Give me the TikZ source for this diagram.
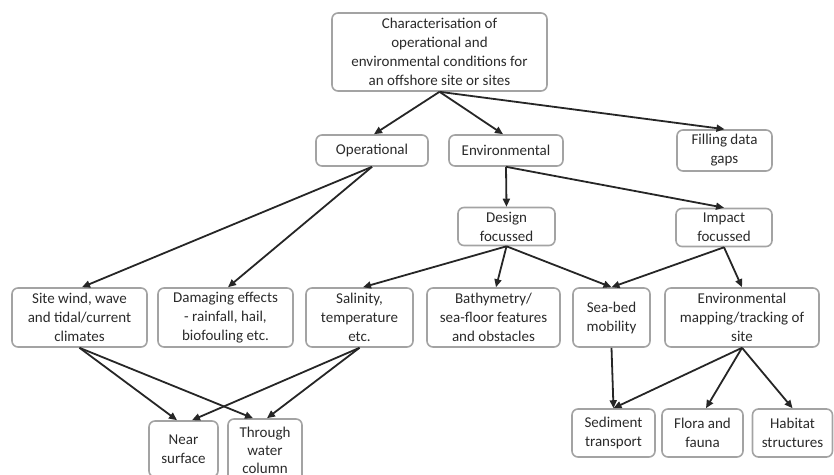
\documentclass[tikz,border=0pt]{standalone}
\usepackage{fontspec}
\setmainfont{Carlito}
\usetikzlibrary{arrows.meta,calc}
\definecolor{boxgray}{HTML}{A3A3A3}
\definecolor{txtgray}{HTML}{2A2A2A}
\begin{document}
\begin{tikzpicture}[x=1pt,y=-1pt,
 box/.style={draw=boxgray,line width=1.6pt,rounded corners=6pt,align=center,inner sep=0pt,text=txtgray,font=\fontsize{15}{19}\selectfont},
 arr/.style={line width=1.8pt,-{Triangle[length=8pt,width=7pt]},draw=black!85}]
\useasboundingbox (0,0) rectangle (834,474);
\node[box,minimum width=215pt,minimum height=78pt] (top) at (439.5,52) {Characterisation of\\operational and\\environmental conditions for\\an offshore site or sites};
\node[box,minimum width=112pt,minimum height=31pt] (op) at (372,150.5) {Operational};
\node[box,minimum width=114pt,minimum height=31pt] (env) at (506,150.5) {Environmental};
\node[box,minimum width=95pt,minimum height=41pt] (fill) at (724.5,150.5) {Filling data\\gaps};
\node[box,minimum width=97pt,minimum height=38pt] (design) at (506.5,226.5) {Design\\focussed};
\node[box,minimum width=96pt,minimum height=38pt] (impact) at (724,227.5) {Impact\\focussed};
\node[box,minimum width=135pt,minimum height=59pt] (site) at (79.5,317.5) {Site wind, wave\\and tidal/current\\climates};
\node[box,minimum width=135pt,minimum height=59pt] (dmg) at (225.5,317.5) {Damaging effects\\- rainfall, hail,\\biofouling etc.};
\node[box,minimum width=107pt,minimum height=59pt] (sal) at (359.5,317.5) {Salinity,\\temperature\\etc.};
\node[box,minimum width=133pt,minimum height=59pt] (bath) at (493.5,317.5) {Bathymetry/\\sea-floor features\\and obstacles};
\node[box,minimum width=77pt,minimum height=59pt] (seabed) at (611.5,317.5) {Sea-bed\\mobility};
\node[box,minimum width=154pt,minimum height=59pt] (envmap) at (742,317.5) {Environmental\\mapping/tracking of\\site};
\node[box,minimum width=69pt,minimum height=56pt] (near) at (183.5,449) {Near\\surface};
\node[box,minimum width=74pt,minimum height=62pt,font=\fontsize{15}{18}\selectfont] (through) at (265,450) {Through\\water\\column};
\node[box,minimum width=83pt,minimum height=48pt] (sed) at (613.5,433) {Sediment\\transport};
\node[box,minimum width=81pt,minimum height=48pt] (flora) at (702.5,433) {Flora and\\fauna};
\node[box,minimum width=80pt,minimum height=48pt] (hab) at (792.5,433) {Habitat\\structures};
% connectors
\draw[arr] (top.south) -- ($(op.north)+(2,0)$);
\draw[arr] (top.south) -- ($(env.north)+(-3,0)$);
\draw[arr] (top.south) -- (fill.north);
\draw[arr] (op.south) -- ($(site.north)+(2.5,0)$);
\draw[arr] (op.south) -- ($(dmg.north)+(2.5,0)$);
\draw[arr] (env.south) -- (design.north);
\draw[arr] (env.south) -- (impact.north);
\draw[arr] (design.south) -- ($(sal.north)+(3.5,0)$);
\draw[arr] (design.south) -- ($(bath.north)+(2.5,0)$);
\draw[arr] (design.south) -- (seabed.north);
\draw[arr] (impact.south) -- (seabed.north);
\draw[arr] (impact.south) -- (envmap.north);
\draw[arr] (site.south) -- ($(near.north)+(-6.5,0)$);
\draw[arr] (site.south) -- ($(through.north)+(-12,0)$);
\draw[arr] (sal.south) -- ($(near.north)+(8.5,0)$);
\draw[arr] (sal.south) -- ($(through.north)+(2,0)$);
\draw[arr] (seabed.south) -- (sed.north);
\draw[arr] (envmap.south) -- (sed.north);
\draw[arr] (envmap.south) -- ($(flora.north)+(3.5,0)$);
\draw[arr] (envmap.south) -- (hab.north);
\end{tikzpicture}
\end{document}
